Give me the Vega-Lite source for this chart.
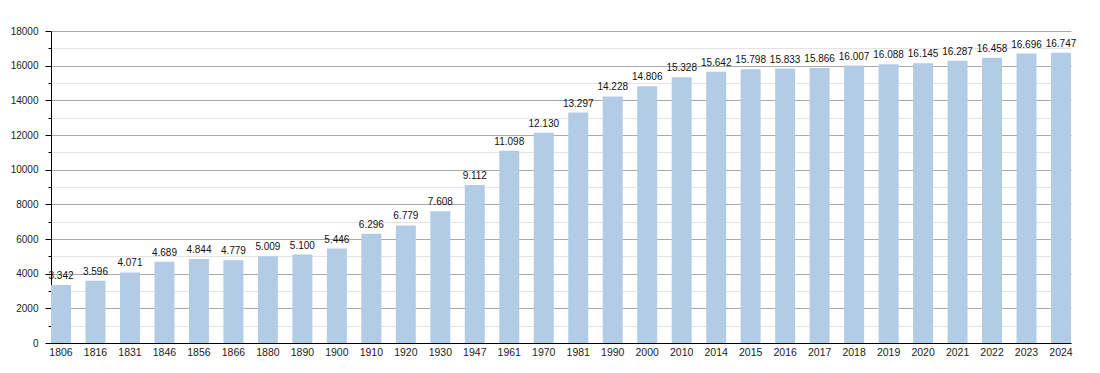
{
  "$schema": "https://vega.github.io/schema/vega-lite/v6.json",
  "autosize": "none",
  "width": 1020,
  "height": 312,
  "padding": {"left": 51, "top": 31, "right": 29, "bottom": 30},
  "background": "white",
  "config": {
    "view": {"stroke": null},
    "font": "Liberation Sans",
    "locale": {"number": {"decimal": ",", "thousands": ".", "grouping": [3], "currency": ["", " €"]}}
  },
  "data": {
    "values": [
      {"year": "1806", "pop": 3342},
      {"year": "1816", "pop": 3596},
      {"year": "1831", "pop": 4071},
      {"year": "1846", "pop": 4689},
      {"year": "1856", "pop": 4844},
      {"year": "1866", "pop": 4779},
      {"year": "1880", "pop": 5009},
      {"year": "1890", "pop": 5100},
      {"year": "1900", "pop": 5446},
      {"year": "1910", "pop": 6296},
      {"year": "1920", "pop": 6779},
      {"year": "1930", "pop": 7608},
      {"year": "1947", "pop": 9112},
      {"year": "1961", "pop": 11098},
      {"year": "1970", "pop": 12130},
      {"year": "1981", "pop": 13297},
      {"year": "1990", "pop": 14228},
      {"year": "2000", "pop": 14806},
      {"year": "2010", "pop": 15328},
      {"year": "2014", "pop": 15642},
      {"year": "2015", "pop": 15798},
      {"year": "2016", "pop": 15833},
      {"year": "2017", "pop": 15866},
      {"year": "2018", "pop": 16007},
      {"year": "2019", "pop": 16088},
      {"year": "2020", "pop": 16145},
      {"year": "2021", "pop": 16287},
      {"year": "2022", "pop": 16458},
      {"year": "2023", "pop": 16696},
      {"year": "2024", "pop": 16747}
    ]
  },
  "encoding": {
    "x": {
      "field": "year", "type": "nominal", "sort": null,
      "scale": {"paddingInner": 0.42, "paddingOuter": 0},
      "axis": {
        "title": null, "labelAngle": 0, "ticks": false, "labelPadding": 4,
        "domainColor": "#000", "domainWidth": 1, "labelFontSize": 10.5, "labelColor": "#222", "grid": false
      }
    },
    "y": {
      "field": "pop", "type": "quantitative",
      "scale": {"domain": [0, 18000], "nice": false},
      "axis": {
        "title": null,
        "values": [0, 1000, 2000, 3000, 4000, 5000, 6000, 7000, 8000, 9000, 10000, 11000, 12000, 13000, 14000, 15000, 16000, 17000, 18000],
        "format": "d",
        "labelExpr": "datum.value % 2000 === 0 ? datum.label : ''",
        "grid": true,
        "gridColor": {"condition": {"test": "datum.value % 2000 === 0", "value": "#a9a9a9"}, "value": "#e4e4e4"},
        "tickSize": {"condition": {"test": "datum.value % 2000 === 0", "value": 6}, "value": 3},
        "tickColor": "#000",
        "domainColor": "#000",
        "labelPadding": 7,
        "labelFontSize": 10,
        "labelColor": "#222"
      }
    }
  },
  "layer": [
    {"mark": {"type": "bar", "color": "#b3cce6"}},
    {
      "mark": {"type": "text", "baseline": "alphabetic", "dy": -6, "fontSize": 10, "color": "#111"},
      "encoding": {"text": {"field": "pop", "type": "quantitative", "format": ",d"}}
    }
  ]
}
